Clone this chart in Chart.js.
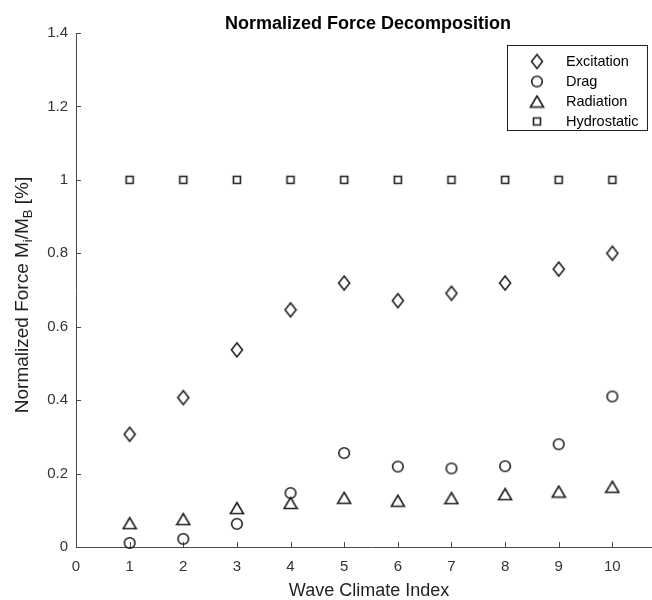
<!DOCTYPE html>
<html><head><meta charset="utf-8">
<script src="https://cdn.jsdelivr.net/npm/chart.js@4.4.1/dist/chart.umd.min.js"></script>
<style>
html,body{margin:0;padding:0;background:#fff;overflow:hidden}
#wrap{width:652px;height:600px;overflow:hidden;position:relative;background:#fff}
#c{position:absolute;left:0;top:0;width:740px;height:600px}
</style></head><body>
<div id="wrap"><canvas id="c" width="740" height="600"></canvas></div>
<script>
const chartTitle = 'Normalized Force Decomposition';
const xAxisLabel = 'Wave Climate Index';
const seriesNames = ['Excitation', 'Drag', 'Radiation', 'Hydrostatic'];
const climateIndex = [1, 2, 3, 4, 5, 6, 7, 8, 9, 10];
const excitation  = [0.307, 0.407, 0.537, 0.646, 0.719, 0.671, 0.691, 0.719, 0.757, 0.800];
const drag        = [0.011, 0.022, 0.063, 0.147, 0.256, 0.219, 0.214, 0.220, 0.280, 0.410];
const radiation   = [0.065, 0.076, 0.106, 0.120, 0.134, 0.126, 0.133, 0.144, 0.151, 0.164];
const hydrostatic = [1, 1, 1, 1, 1, 1, 1, 1, 1, 1];
const xTicks = [0, 1, 2, 3, 4, 5, 6, 7, 8, 9, 10];
const yTicks = [0, 0.2, 0.4, 0.6, 0.8, 1, 1.2, 1.4];
const yTickLabels = ['0', '0.2', '0.4', '0.6', '0.8', '1', '1.2', '1.4'];

const INK = '#1f1f1f';
const AXIS = '#4a4a4a';
const FONT = "'Liberation Sans', Arial, Helvetica, sans-serif";

function makeMarker(w, h, drawFn) {
  const c = document.createElement('canvas');
  c.width = w; c.height = h;
  const g = c.getContext('2d');
  g.strokeStyle = INK; g.lineWidth = 1.6; g.lineJoin = 'miter';
  g.beginPath(); drawFn(g, w / 2, h / 2); g.closePath(); g.stroke();
  return c;
}
const diamondImg = makeMarker(14, 18, (g, cx, cy) => {
  g.moveTo(cx, cy - 7); g.lineTo(cx + 5.5, cy); g.lineTo(cx, cy + 7); g.lineTo(cx - 5.5, cy);
});
const circleImg = makeMarker(14, 14, (g, cx, cy) => { g.arc(cx, cy, 5.3, 0, Math.PI * 2); });
const triangleImg = makeMarker(16, 14, (g, cx, cy) => {
  g.moveTo(cx, cy - 5.5); g.lineTo(cx + 6.5, cy + 5.5); g.lineTo(cx - 6.5, cy + 5.5);
});
const squareImg = makeMarker(12, 12, (g, cx, cy) => { g.rect(cx - 3.5, cy - 3.5, 7, 7); });
const markerImgs = [diamondImg, circleImg, triangleImg, squareImg];

function pts(arr) { return climateIndex.map((x, i) => ({ x: x, y: arr[i] })); }
const seriesValues = [excitation, drag, radiation, hydrostatic];

const decorPlugin = {
  id: 'decor',
  beforeDatasetsDraw(chart) {
    const ctx = chart.ctx, a = chart.chartArea;
    const xs = chart.scales.x, ys = chart.scales.y;
    ctx.save();
    ctx.strokeStyle = AXIS; ctx.lineWidth = 1;
    ctx.beginPath();
    xTicks.forEach(v => {
      const px = Math.round(xs.getPixelForValue(v)) + 0.5;
      ctx.moveTo(px, a.bottom); ctx.lineTo(px, a.bottom - 5);
    });
    yTicks.forEach(v => {
      const py = Math.round(ys.getPixelForValue(v)) + 0.5;
      ctx.moveTo(a.left, py); ctx.lineTo(a.left + 5, py);
    });
    ctx.stroke();
    ctx.restore();
  },
  afterDraw(chart) {
    const ctx = chart.ctx, a = chart.chartArea;
    ctx.save();
    // title
    ctx.fillStyle = '#000';
    ctx.font = 'bold 18px ' + FONT;
    ctx.textAlign = 'center'; ctx.textBaseline = 'alphabetic';
    ctx.fillText(chartTitle, (a.left + a.right) / 2 - 3, 29);
    // x label
    ctx.fillStyle = INK;
    ctx.font = '18px ' + FONT;
    ctx.fillText(xAxisLabel, (a.left + a.right) / 2 - 2, 596);
    // y label with subscripts
    const parts = [
      ['Normalized Force M', 19, 0], ['i', 13, 4], ['/M', 19, 0], ['B', 13, 4], [' [%]', 19, 0]
    ];
    let total = 0;
    parts.forEach(p => { ctx.font = p[1] + 'px ' + FONT; total += ctx.measureText(p[0]).width; });
    ctx.translate(28, (a.top + a.bottom) / 2 + 5);
    ctx.rotate(-Math.PI / 2);
    ctx.textAlign = 'left';
    let x = -total / 2;
    parts.forEach(p => {
      ctx.font = p[1] + 'px ' + FONT;
      ctx.fillText(p[0], x, p[2]);
      x += ctx.measureText(p[0]).width;
    });
    ctx.restore();
    // legend
    ctx.save();
    const bx = a.right - 159, by = a.top + 12, bw = 140, bh = 85;
    ctx.fillStyle = '#fff';
    ctx.fillRect(bx, by, bw, bh);
    ctx.strokeStyle = INK; ctx.lineWidth = 1;
    ctx.strokeRect(Math.round(bx) + 0.5, Math.round(by) + 0.5, bw, bh);
    ctx.font = '14.5px ' + FONT;
    ctx.fillStyle = '#000';
    ctx.textAlign = 'left'; ctx.textBaseline = 'middle';
    seriesNames.forEach((name, k) => {
      const cy = by + 16.5 + 20 * k;
      const img = markerImgs[k];
      ctx.drawImage(img, bx + 30 - img.width / 2, cy - img.height / 2);
      ctx.fillText(name, bx + 59, cy);
    });
    ctx.restore();
  }
};

new Chart(document.getElementById('c'), {
  type: 'scatter',
  data: {
    datasets: seriesNames.map((name, k) => ({
      label: name,
      data: pts(seriesValues[k]),
      pointStyle: markerImgs[k],
      pointRadius: 7,
      pointHoverRadius: 7,
      borderColor: INK,
      backgroundColor: 'rgba(0,0,0,0)',
      showLine: false,
      clip: false
    }))
  },
  options: {
    responsive: false,
    animation: false,
    devicePixelRatio: 1,
    layout: { padding: { top: 33, right: 74, left: 0, bottom: 0 }, autoPadding: false },
    plugins: { legend: { display: false }, title: { display: false }, tooltip: { enabled: false } },
    events: [],
    scales: {
      x: {
        type: 'linear', min: 0, max: 11,
        afterFit(s) { s.height = 53; },
        afterBuildTicks(s) { s.ticks = xTicks.map(v => ({ value: v })); },
        grid: { drawOnChartArea: false, drawTicks: false },
        border: { display: true, color: AXIS, width: 1 },
        ticks: { padding: 11, color: '#333', font: { family: FONT, size: 15 }, maxRotation: 0, autoSkip: false,
                 callback: (v) => String(v) }
      },
      y: {
        type: 'linear', min: 0, max: 1.4,
        afterFit(s) { s.width = 76; },
        afterBuildTicks(s) { s.ticks = yTicks.map(v => ({ value: v })); },
        grid: { drawOnChartArea: false, drawTicks: false },
        border: { display: true, color: AXIS, width: 1 },
        ticks: { padding: 8, color: '#333', font: { family: FONT, size: 15 }, autoSkip: false,
                 callback: (v, i) => yTickLabels[i] }
      }
    }
  },
  plugins: [decorPlugin]
});
</script>
</body></html>
